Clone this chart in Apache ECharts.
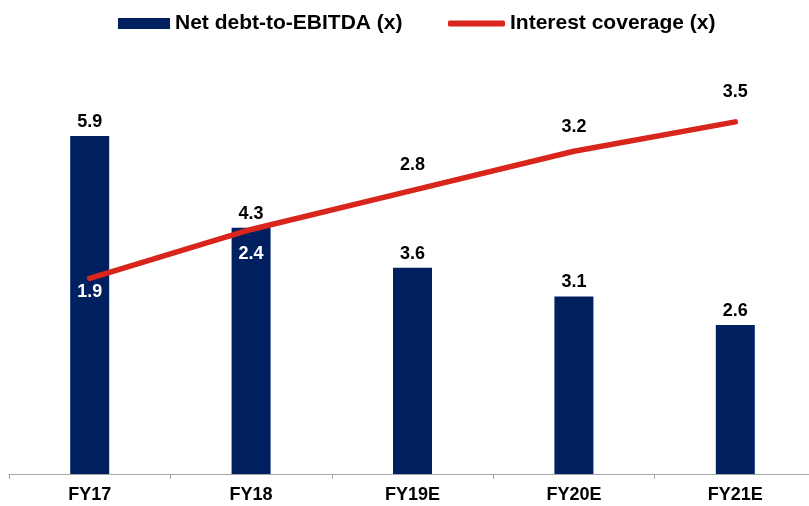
<!DOCTYPE html>
<html>
<head>
<meta charset="utf-8">
<script src="https://cdn.jsdelivr.net/npm/echarts@6/dist/echarts.min.js"></script>
<style>
  html, body { margin: 0; padding: 0; background: #fff; }
  #chart { width: 809px; height: 506px; }
</style>
</head>
<body>
<div id="chart"></div>
<script>
var categories = ['FY17', 'FY18', 'FY19E', 'FY20E', 'FY21E'];
var netDebtToEbitda = [5.9, 4.3, 3.6, 3.1, 2.6];
var interestCoverage = [1.9, 2.4, 2.8, 3.2, 3.5];

var FONT = 'Liberation Sans, Arial, sans-serif';

// where each coverage label sits relative to its point
var lineLabelCfg = [
  { position: 'bottom', distance: 4, color: '#fff' },
  { position: 'bottom', distance: 15, color: '#fff' },
  { position: 'top', distance: 16, color: '#000' },
  { position: 'top', distance: 15, color: '#000' },
  { position: 'top', distance: 20, color: '#000' }
];

var lineData = interestCoverage.map(function (v, i) {
  return {
    value: v,
    label: {
      position: lineLabelCfg[i].position,
      distance: lineLabelCfg[i].distance,
      color: lineLabelCfg[i].color
    }
  };
});

var legendText = { fontFamily: FONT, fontWeight: 'bold', fontSize: 21, color: '#000' };

var chart = echarts.init(document.getElementById('chart'));

var option = {
  animation: false,
  backgroundColor: '#fff',
  legend: [
    {
      left: 118,
      top: 13,
      padding: 0,
      itemWidth: 52,
      itemHeight: 11,
      textStyle: legendText,
      data: [{ name: 'Net debt-to-EBITDA (x)', icon: 'rect' }]
    },
    {
      left: 448,
      top: 13,
      padding: 0,
      itemWidth: 57,
      itemHeight: 6,
      textStyle: legendText,
      data: [{ name: 'Interest coverage (x)', icon: 'roundRect', itemStyle: { color: '#d9261c' } }]
    }
  ],
  grid: { left: 9, width: 807, top: 73, bottom: 32, outerBoundsMode: 'none' },
  xAxis: {
    type: 'category',
    data: categories,
    axisLine: { lineStyle: { color: '#a6a6a6', width: 1 } },
    axisTick: { show: true, length: 5, lineStyle: { color: '#a6a6a6' } },
    axisLabel: { fontFamily: FONT, fontWeight: 'bold', fontSize: 18, color: '#000', margin: 12 }
  },
  yAxis: [
    { type: 'value', min: 0, max: 7, show: false, splitLine: { show: false } },
    { type: 'value', min: -0.1, max: 4, show: false, splitLine: { show: false } }
  ],
  series: [
    {
      name: 'Net debt-to-EBITDA (x)',
      type: 'bar',
      data: netDebtToEbitda,
      barWidth: 39,
      itemStyle: { color: '#002060' },
      label: {
        show: true,
        position: 'top',
        distance: 5,
        fontFamily: FONT, fontWeight: 'bold', fontSize: 18, color: '#000',
        formatter: function (p) { return p.value.toFixed(1); }
      }
    },
    {
      name: 'Interest coverage (x)',
      type: 'line',
      yAxisIndex: 1,
      data: lineData,
      symbol: 'circle',
      symbolSize: 1,
      showSymbol: true,
      lineStyle: { color: '#d9261c', width: 5.5, cap: 'round' },
      itemStyle: { color: '#d9261c' },
      label: {
        show: true,
        fontFamily: FONT, fontWeight: 'bold', fontSize: 18,
        formatter: function (p) { return p.value.toFixed(1); }
      },
      labelLayout: { hideOverlap: false },
      z: 3
    }
  ]
};

chart.setOption(option);
</script>
</body>
</html>
